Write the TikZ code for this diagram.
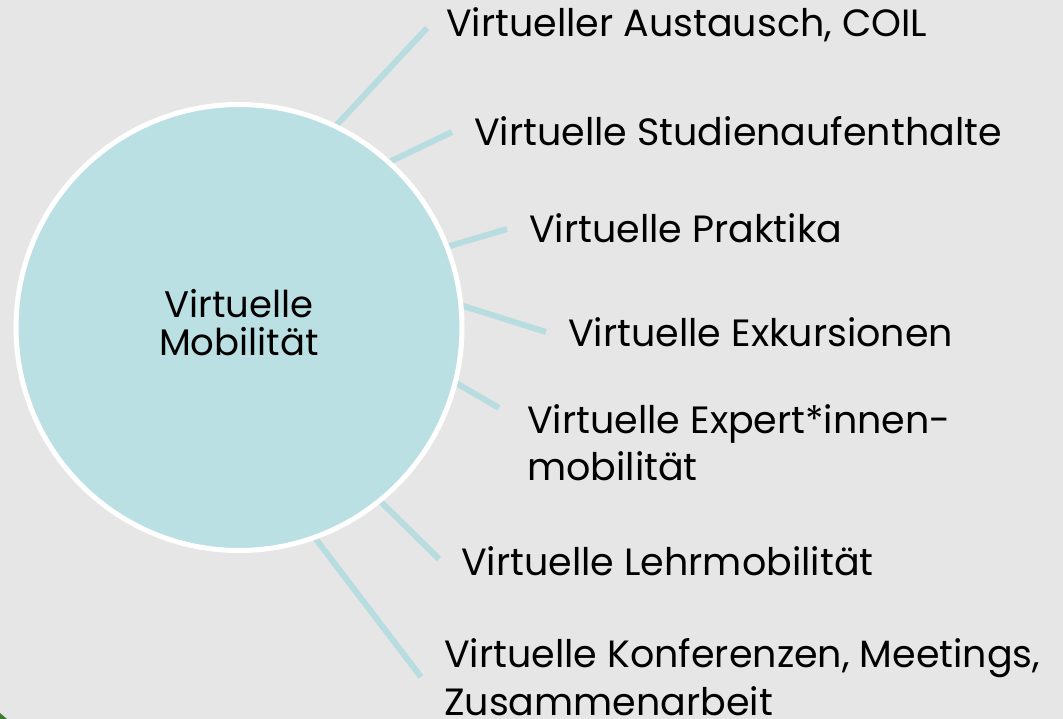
\documentclass[tikz,border=0pt]{standalone}
\usepackage{fontspec}
\setmainfont{Poppins}
\definecolor{bg}{HTML}{E6E6E6}
\definecolor{hubfill}{HTML}{BBE0E3}
\definecolor{spokec}{HTML}{B8DDE0}
\definecolor{cornergreen}{HTML}{3D7A32}
\tikzset{
  spoke/.style={draw=spokec, line width=6pt},
  hub/.style={circle, fill=hubfill, draw=white, line width=5pt, minimum size=446pt, inner sep=0pt, align=center, text depth=10pt, font=\fontsize{37}{38.5}\selectfont},
  item/.style={anchor=base west, inner sep=0pt, align=left, font=\fontsize{38}{47.5}\selectfont}
}
\begin{document}
\begin{tikzpicture}[x=1pt,y=-1pt]
\useasboundingbox (0,0) rectangle (1063,719);
\fill[bg] (0,0) rectangle (1063,719);
\fill[cornergreen] (0,713) -- (7,719) -- (0,719) -- cycle;
\coordinate (s1) at (332,130); \coordinate (e1) at (427,28);
\coordinate (s2) at (385,164); \coordinate (e2) at (452,132);
\coordinate (s3) at (443,248); \coordinate (e3) at (507,229);
\coordinate (s4) at (457,304); \coordinate (e4) at (546,332);
\coordinate (s5) at (451,380); \coordinate (e5) at (499,408);
\coordinate (s6) at (375,496); \coordinate (e6) at (439,559);
\coordinate (s7) at (312,534); \coordinate (e7) at (421,677);
\foreach \i in {1,...,7}{\draw[spoke] (s\i) -- (e\i);}
\node[hub] (hub) at (239,327.5) {Virtuelle\\Mobilität};
\node[item] (t1) at (446,37) {Virtueller Austausch, COIL};
\node[item] (t2) at (474,146) {Virtuelle Studienaufenthalte};
\node[item] (t3) at (529,243) {Virtuelle Praktika};
\node[item] (t4) at (568,347) {Virtuelle Exkursionen};
\node[item] (t5) at (527,480.5) {Virtuelle Expert*innen-\\mobilität};
\node[item] (t6) at (461,575) {Virtuelle Lehrmobilität};
\node[item] (t7) at (444,715) {Virtuelle Konferenzen, Meetings,\\Zusammenarbeit};
\end{tikzpicture}
\end{document}
